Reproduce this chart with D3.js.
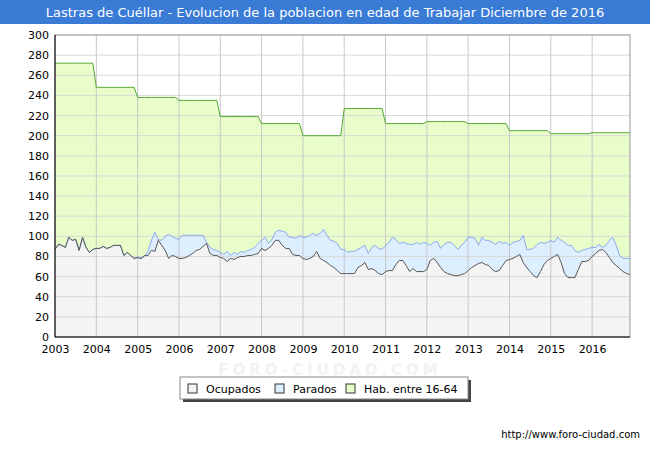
<!DOCTYPE html><html><head><meta charset="utf-8"><script src="https://cdn.jsdelivr.net/npm/d3@7"></script>
<style>body{margin:0;background:#fff}svg{font-family:Verdana,"DejaVu Sans",sans-serif}</style></head><body><svg id="c" width="650" height="450"></svg>
<script>
const years=[2003,2004,2005,2006,2007,2008,2009,2010,2011,2012,2013,2014,2015,2016];
const hab=[272,248,238,235,219,212,200,227,212,214,212,205,202,203];
const ocupados=[
87,92,91,89,99,96,97,86,99,89,84,87,
88,88,90,88,89,91,91,91,81,84,81,78,
79,78,81,81,86,85,96,91,86,78,81,80,
78,78,79,81,83,86,87,90,93,83,81,81,
79,78,75,78,77,79,80,80,81,81,82,83,
88,86,88,91,96,96,91,88,88,82,81,81,
78,77,78,80,85,78,76,74,71,69,66,63,
63,63,63,63,69,71,74,67,68,66,63,62,
65,66,66,72,76,76,71,65,68,65,65,65,
67,76,78,74,69,65,63,62,61,61,62,63,
66,69,71,73,74,72,71,67,65,66,71,76,
77,78,80,82,74,69,65,61,59,65,72,76,
78,80,82,74,63,59,59,59,67,75,75,76,
80,83,86,87,84,79,74,71,68,65,63,62];
const total=[
87,92,91,89,99,96,97,86,99,89,84,87,
88,88,90,88,89,91,91,91,81,84,81,78,
79,78,80,85,96,104,97,96,100,102,100,98,
97,101,101,101,101,101,101,101,94,89,87,86,
84,82,85,81,84,82,85,84,86,87,89,93,
96,99,93,97,104,106,105,104,99,99,98,101,
99,99,101,103,101,103,107,101,96,95,93,87,
87,84,85,85,87,89,91,83,89,91,88,87,
91,94,99,97,93,94,93,92,92,94,92,94,
93,91,94,95,88,92,94,94,91,87,91,94,
99,99,98,91,99,96,96,94,92,95,93,94,
91,94,95,96,101,87,87,88,92,94,93,94,
96,94,99,96,94,91,91,86,84,86,87,88,
89,89,92,89,91,96,99,91,81,78,78,78];
const yTicks=d3.range(0,301,20);

const svg=d3.select("#c");
const L=55,R=630,T=35,B=337;
svg.append("rect").attr("x",0).attr("y",0).attr("width",650).attr("height",24).attr("fill","#3a7bd5");
svg.append("text").attr("x",325).attr("y",17).attr("text-anchor","middle").attr("fill","#fff").attr("font-size",13).text("Lastras de Cuéllar - Evolucion de la poblacion en edad de Trabajar Diciembre de 2016");
const x=d3.scaleLinear().domain([2003,2003+167/12]).range([L,R]);
const y=d3.scaleLinear().domain([0,300]).range([B,T]);
const habM=[];years.forEach((yr,i)=>{for(let m=0;m<12;m++)habM.push(hab[i]);});
const idx=d3.range(ocupados.length);
const X=i=>x(2003+i/12);
svg.append("text").attr("x",330).attr("y",375).attr("text-anchor","middle").attr("font-size",15).attr("font-weight","bold").attr("fill","#f2f2f2").attr("letter-spacing",4).text("FORO-CIUDAD.COM");
svg.append("rect").attr("x",L).attr("y",T).attr("width",R-L).attr("height",B-T).attr("fill","#fff");
const area=(top,bot)=>d3.area().x(i=>X(i)).y0(i=>y(bot(i))).y1(i=>y(top(i)));
const line=f=>d3.line().x(i=>X(i)).y(i=>y(f(i)));
svg.append("path").attr("d",area(i=>habM[i],i=>total[i])(idx)).attr("fill","#e8fdca");
svg.append("path").attr("d",area(i=>total[i],i=>ocupados[i])(idx)).attr("fill","#ddeeff");
svg.append("path").attr("d",area(i=>ocupados[i],i=>0)(idx)).attr("fill","#f4f4f4");
const g=svg.append("g");
yTicks.forEach(t=>g.append("line").attr("x1",L).attr("x2",R).attr("y1",y(t)).attr("y2",y(t)).attr("stroke","#d8d8d8"));
years.forEach(t=>g.append("line").attr("x1",x(t)).attr("x2",x(t)).attr("y1",T).attr("y2",B).attr("stroke","#c8c8c8"));
svg.append("path").attr("d",line(i=>habM[i])(idx)).attr("fill","none").attr("stroke","#55aa33");
svg.append("path").attr("d",line(i=>total[i])(idx)).attr("fill","none").attr("stroke","#88aaee");
svg.append("path").attr("d",line(i=>ocupados[i])(idx)).attr("fill","none").attr("stroke","#555");
svg.append("rect").attr("x",L).attr("y",T).attr("width",R-L).attr("height",B-T).attr("fill","none").attr("stroke","#999");
svg.append("line").attr("x1",L).attr("x2",L).attr("y1",T).attr("y2",B).attr("stroke","#000");
svg.append("line").attr("x1",L).attr("x2",R).attr("y1",B).attr("y2",B).attr("stroke","#000");
svg.append("g").attr("transform",`translate(${L},0)`).call(d3.axisLeft(y).tickValues(yTicks).tickSize(0).tickPadding(6)).call(a=>a.select(".domain").remove()).selectAll("text").attr("font-size",11).attr("fill","#000").attr("font-family","Verdana,DejaVu Sans");
svg.append("g").attr("transform",`translate(0,${B})`).call(d3.axisBottom(x).tickValues(years).tickFormat(d3.format("d")).tickSize(0).tickPadding(8)).call(a=>a.select(".domain").remove()).selectAll("text").attr("font-size",11).attr("fill","#000").attr("font-family","Verdana,DejaVu Sans");
// legend
svg.append("rect").attr("x",183).attr("y",380).attr("width",288).attr("height",22).attr("fill","#444");
svg.append("rect").attr("x",180).attr("y",377).attr("width",288).attr("height",22).attr("fill","#fff").attr("stroke","#888");
const leg=[["Ocupados","#f4f4f4",188],["Parados","#ddeeff",275],["Hab. entre 16-64","#e8fdca",346]];
leg.forEach(([t,c,lx])=>{svg.append("rect").attr("x",lx).attr("y",384).attr("width",9).attr("height",9).attr("fill",c).attr("stroke","#333");
svg.append("text").attr("x",lx+18).attr("y",393).attr("font-size",11).text(t);});
svg.append("text").attr("x",640).attr("y",438).attr("text-anchor","end").attr("font-size",10).text("http://www.foro-ciudad.com");
</script></body></html>
